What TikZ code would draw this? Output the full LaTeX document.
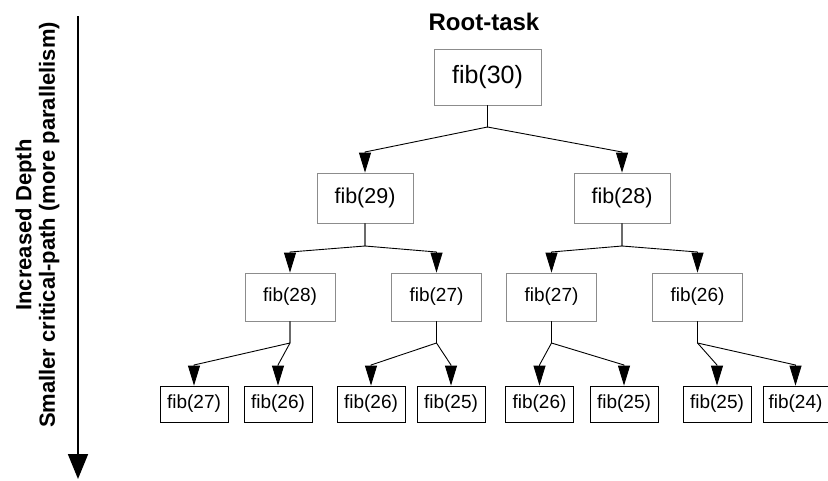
\documentclass[tikz,border=0pt]{standalone}
\usepackage{fontspec}
\setmainfont{Liberation Sans}
\usetikzlibrary{arrows.meta}
\begin{document}
\begin{tikzpicture}[x=1pt,y=-1pt,
  task/.style={draw=black!45, line width=0.8pt, fill=white, inner sep=0pt, align=center},
  leaf/.style={draw=black, line width=0.8pt, fill=white, inner sep=0pt, minimum width=68pt, minimum height=36pt,
    font=\fontsize{19}{22}\selectfont},
  lvlA/.style={task, minimum width=107pt, minimum height=56pt, font=\fontsize{25}{28}\selectfont},
  lvlB/.style={task, minimum width=96pt, minimum height=50pt, font=\fontsize{21.5}{24}\selectfont},
  lvlC/.style={task, minimum width=90pt, minimum height=48pt, font=\fontsize{19}{22}\selectfont},
  conn/.style={draw=black, line width=0.9pt, -{Triangle[length=20pt,width=12pt]}}
]
\useasboundingbox (0,0) rectangle (828,480);

% depth axis
\coordinate (dtop) at (78,16);
\coordinate (dbot) at (78,479);
\draw[line width=1.8pt, -{Triangle[length=25pt,width=20pt]}] (dtop) -- (dbot);
\node[rotate=90, inner sep=0pt, align=center, font=\bfseries\fontsize{22}{23.5}\selectfont] (axislabel) at (37.5,225)
  {Increased Depth\\Smaller critical-path (more parallelism)};

% title
\node[anchor=base, inner sep=0pt, font=\bfseries\fontsize{24}{26}\selectfont] (title) at (484,30) {Root-task};

% tree of tasks
\node[lvlA] (r) at (487.5,77) {fib(30)};

\node[lvlB] (a) at (365,198) {fib(29)};
\node[lvlB] (b) at (622,198) {fib(28)};

\node[lvlC] (aa) at (290,297) {fib(28)};
\node[lvlC] (ab) at (436.5,297) {fib(27)};
\node[lvlC] (ba) at (551.5,297) {fib(27)};
\node[lvlC] (bb) at (697.5,297) {fib(26)};

\node[leaf] (aaa) at (194,404) {fib(27)};
\node[leaf] (aab) at (278,404) {fib(26)};
\node[leaf] (aba) at (371,404) {fib(26)};
\node[leaf] (abb) at (451,404) {fib(25)};
\node[leaf] (baa) at (539.5,404) {fib(26)};
\node[leaf] (bab) at (624,404) {fib(25)};
\node[leaf] (bba) at (717,404) {fib(25)};
\node[leaf, minimum width=65pt] (bbb) at (795.5,404) {fib(24)};

% spawn edges: down to a fork point, across to the child, down into it
\foreach \p/\c/\jy/\ey in {r/a/127/152, r/b/127/152,
    a/aa/246/252, a/ab/246/252, b/ba/246/252, b/bb/246/252,
    aa/aaa/343/365, aa/aab/343/365, ab/aba/343/365, ab/abb/343/365,
    ba/baa/343/365, ba/bab/343/365, bb/bba/343/365, bb/bbb/343/365}
  \draw[conn] (\p.south) -- (\p.south |- 0,\jy) -- (\c.north |- 0,\ey) -- (\c.north);

\end{tikzpicture}
\end{document}
